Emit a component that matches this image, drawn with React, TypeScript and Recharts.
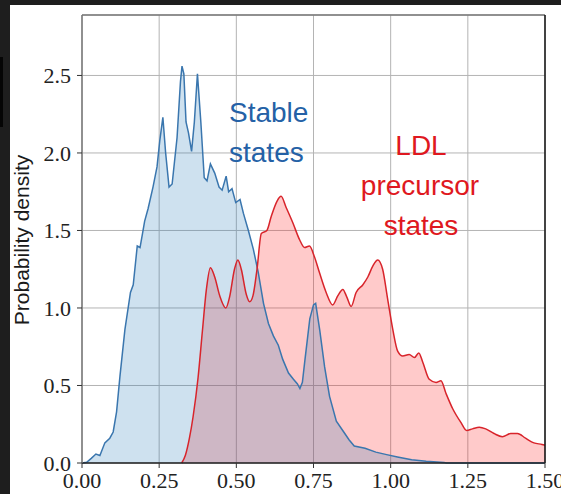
import React from "react";
import {
  ComposedChart,
  Area,
  Line,
  XAxis,
  YAxis,
  CartesianGrid,
  ReferenceLine,
} from "recharts";

// stable states (blue KDE)
const stableX = [
  0.0, 0.015, 0.03, 0.045, 0.058, 0.074, 0.09, 0.101, 0.112, 0.123, 0.139, 0.157, 0.166, 0.179,
  0.188, 0.196, 0.203, 0.214, 0.23, 0.243, 0.252, 0.262, 0.271, 0.282, 0.292, 0.308, 0.319, 0.324,
  0.33, 0.337, 0.345, 0.355, 0.364, 0.374, 0.385, 0.396, 0.405, 0.416, 0.43, 0.444, 0.454, 0.467,
  0.475, 0.486, 0.498, 0.512, 0.523, 0.539, 0.555, 0.571, 0.588, 0.604, 0.62, 0.636, 0.65, 0.669,
  0.685, 0.698, 0.706, 0.714, 0.722, 0.738, 0.75, 0.757, 0.77, 0.786, 0.802, 0.824, 0.848, 0.865,
  0.882, 0.917, 0.952, 0.987, 1.022, 1.068, 1.115, 1.173, 1.18, 1.5,
];
const stableDensity = [
  0, 0.005, 0.03, 0.058, 0.048, 0.13, 0.16, 0.2, 0.33, 0.56, 0.86, 1.1, 1.15, 1.4,
  1.39, 1.48, 1.56, 1.64, 1.78, 1.91, 2.08, 2.23, 2.0, 1.78, 1.8, 2.1, 2.46, 2.56,
  2.51, 2.2, 2.13, 2.01, 2.2, 2.51, 2.2, 1.84, 1.82, 1.93, 1.87, 1.78, 1.76, 1.85,
  1.75, 1.77, 1.68, 1.7, 1.61, 1.5, 1.38, 1.23, 1.03, 0.9, 0.82, 0.76, 0.67, 0.58,
  0.54, 0.51, 0.48, 0.52, 0.66, 0.93, 1.02, 1.03, 0.86, 0.62, 0.43, 0.27, 0.2, 0.15,
  0.11, 0.095, 0.07, 0.054, 0.039, 0.021, 0.011, 0.004, 0, 0,
];

// LDL precursor states (red KDE)
const ldlX = [
  0.323, 0.335, 0.348, 0.36, 0.376, 0.39, 0.403, 0.416, 0.43, 0.446, 0.466, 0.478, 0.494, 0.505,
  0.516, 0.532, 0.543, 0.554, 0.567, 0.581, 0.599, 0.613, 0.632, 0.645, 0.661, 0.683, 0.705, 0.721,
  0.737, 0.753, 0.769, 0.791, 0.812, 0.829, 0.845, 0.858, 0.872, 0.888, 0.91, 0.926, 0.942, 0.958,
  0.974, 0.99, 1.007, 1.023, 1.039, 1.06, 1.077, 1.091, 1.104, 1.125, 1.147, 1.163, 1.179, 1.201,
  1.228, 1.246, 1.265, 1.287, 1.308, 1.335, 1.362, 1.389, 1.411, 1.437, 1.464, 1.49, 1.5,
];
const ldlDensity = [
  0, 0.05, 0.16, 0.3, 0.55, 0.85, 1.12, 1.26, 1.2, 1.08, 1.0, 1.07, 1.25, 1.31,
  1.25, 1.09, 1.04, 1.08, 1.25, 1.48, 1.5, 1.59, 1.69, 1.72, 1.65, 1.55, 1.44, 1.39,
  1.4, 1.33, 1.23, 1.1, 1.02, 1.08, 1.12, 1.07, 1.01, 1.1, 1.15, 1.2, 1.27, 1.31,
  1.25, 1.06, 0.86, 0.72, 0.69, 0.7, 0.68, 0.71, 0.65, 0.54, 0.52, 0.53, 0.45, 0.35,
  0.26, 0.21, 0.22, 0.23, 0.22, 0.19, 0.17, 0.19, 0.19, 0.16, 0.13, 0.12, 0.115,
];

const xTicks = [0, 0.25, 0.5, 0.75, 1.0, 1.25, 1.5];
const yTicks = [0, 0.5, 1.0, 1.5, 2.0, 2.5];

// merge both curves on a shared x key
const rowMap = new Map<number, { x: number; stable?: number; ldl?: number }>();
stableX.forEach((x, i) => {
  rowMap.set(x, { ...(rowMap.get(x) || { x }), stable: stableDensity[i] });
});
ldlX.forEach((x, i) => {
  rowMap.set(x, { ...(rowMap.get(x) || { x }), ldl: ldlDensity[i] });
});
const rows = Array.from(rowMap.values()).sort((a, b) => a.x - b.x);

const tickStyle = { fontFamily: "Liberation Serif", fontSize: 22, fill: "#222" };
const sans = "Liberation Sans, Arial, sans-serif";

export default function App() {
  return (
    <div style={{ position: "absolute", left: 0, top: 0, width: 561, height: 494, background: "#1e1e1e", overflow: "hidden" }}>
      <div style={{ position: "absolute", left: 0, top: 57, width: 3, height: 70, background: "#050505" }} />
      <div style={{ position: "absolute", left: 10, top: 5, width: 551, height: 489, background: "#fff" }}>
        <ComposedChart width={551} height={489} data={rows} margin={{ top: 10, right: 16, bottom: 0, left: 0 }}>
          <CartesianGrid stroke="#b4b4b4" strokeWidth={1} />
          <XAxis
            dataKey="x"
            type="number"
            domain={[0, 1.5]}
            ticks={xTicks}
            interval={0}
            tickFormatter={(v: number) => v.toFixed(2)}
            height={31}
            tickSize={5}
            tickMargin={4}
            axisLine={{ stroke: "#222", strokeWidth: 1.5 }}
            tickLine={{ stroke: "#333" }}
            tick={tickStyle}
          />
          <YAxis
            type="number"
            domain={[0, 2.89]}
            ticks={yTicks}
            interval={0}
            tickFormatter={(v: number) => v.toFixed(1)}
            width={72}
            tickSize={5}
            tickMargin={6}
            axisLine={{ stroke: "#777", strokeWidth: 1.5 }}
            tickLine={{ stroke: "#333" }}
            tick={tickStyle}
          />
          <Area
            dataKey="ldl"
            type="monotone"
            stroke="none"
            fill="#ff1a1a"
            fillOpacity={0.23}
            connectNulls
            dot={false}
            activeDot={false}
            isAnimationActive={false}
          />
          <Area
            dataKey="stable"
            type="linear"
            stroke="none"
            fill="#1f77b4"
            fillOpacity={0.22}
            connectNulls
            dot={false}
            activeDot={false}
            isAnimationActive={false}
          />
          <Line
            dataKey="stable"
            type="linear"
            stroke="#3a76ae"
            strokeWidth={1.5}
            connectNulls
            dot={false}
            activeDot={false}
            isAnimationActive={false}
          />
          <Line
            dataKey="ldl"
            type="monotone"
            stroke="#d8242b"
            strokeWidth={1.5}
            connectNulls
            dot={false}
            activeDot={false}
            isAnimationActive={false}
          />
          <ReferenceLine y={2.89} stroke="#777" strokeWidth={1.5} />
          <ReferenceLine x={1.5} stroke="#111" strokeWidth={1.5} />
        </ComposedChart>
      </div>
      <svg width={561} height={494} style={{ position: "absolute", left: 0, top: 0, pointerEvents: "none" }}>
        <text x={29} y={240} transform="rotate(-90 29 240)" textAnchor="middle" fontFamily={sans} fontSize={21} fill="#1a1a1a">
          Probability density
        </text>
        <text fontFamily={sans} fontSize={28} fill="#2461a6">
          <tspan x={229} y={122}>Stable</tspan>
          <tspan x={229} y={162}>states</tspan>
        </text>
        <text fontFamily={sans} fontSize={28} fill="#df1820" textAnchor="middle">
          <tspan x={421} y={155}>LDL</tspan>
          <tspan x={420} y={195}>precursor</tspan>
          <tspan x={421} y={235}>states</tspan>
        </text>
      </svg>
    </div>
  );
}
